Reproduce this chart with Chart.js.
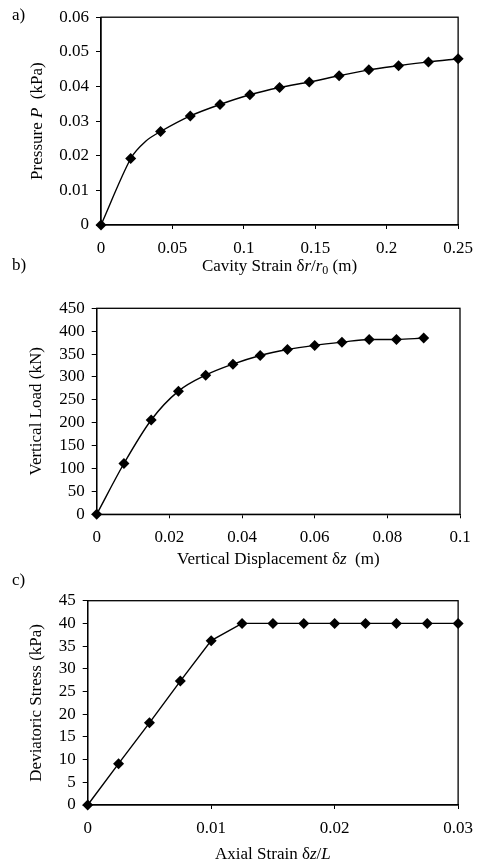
<!DOCTYPE html>
<html>
<head>
<meta charset="utf-8">
<script src="https://cdn.jsdelivr.net/npm/chart.js@4.4.1/dist/chart.umd.min.js"></script>
<style>
    body { margin: 0; background: #fff; width: 482px; height: 864px; position: relative; overflow: hidden; }
    canvas { position: absolute; left: 0; }
    .tag { position: absolute; left: 12px; font: 17px "Liberation Serif", serif; color: #000; line-height: 17px; }
</style>
</head>
<body>
<canvas id="chartA" width="482" height="285" style="top:0"></canvas>
<canvas id="chartB" width="482" height="285" style="top:285px"></canvas>
<canvas id="chartC" width="482" height="294" style="top:570px"></canvas>
<div class="tag" style="top:6px">a)</div>
<div class="tag" style="top:256px">b)</div>
<div class="tag" style="top:571px">c)</div>
<script>
// a) cavity expansion (point 2 is a bend in the curve with no marker)
const cavityStrain = [0, 0.0208, 0.0313, 0.0417, 0.0625, 0.0833, 0.1042, 0.125, 0.1458, 0.1667, 0.1875, 0.2083, 0.2292, 0.25];
const pressure = [0, 0.0192, 0.0242, 0.0270, 0.0315, 0.0348, 0.0376, 0.0397, 0.0413, 0.0431, 0.0448, 0.0460, 0.0471, 0.0480];
const pressureUnmarked = [2];

// b) pile load test
const verticalDisp = [0, 0.0075, 0.015, 0.0225, 0.03, 0.0375, 0.045, 0.0525, 0.06, 0.0675, 0.075, 0.0825, 0.09];
const verticalLoad = [0, 111, 206, 269, 304, 328, 347, 360, 369, 376, 382, 382, 385];

// c) triaxial test
const axialStrain = [0, 0.0025, 0.005, 0.0075, 0.01, 0.0125, 0.015, 0.0175, 0.02, 0.0225, 0.025, 0.0275, 0.03];
const deviatoricStress = [0, 9.1, 18.1, 27.3, 36.2, 40, 40, 40, 40, 40, 40, 40, 40];

const FONT = '"Liberation Serif", "Times New Roman", serif';

function drawRich(ctx, parts, cx, cy, angle) {
    ctx.save();
    ctx.translate(cx, cy);
    ctx.rotate(angle);
    let fontOf = p => (p.italic ? 'italic ' : '') + (p.sub ? 12 : 17) + 'px ' + FONT;
    let total = 0;
    parts.forEach(p => { ctx.font = fontOf(p); total += ctx.measureText(p.text).width; });
    let x = -total / 2;
    ctx.fillStyle = '#000';
    ctx.textBaseline = 'middle';
    ctx.textAlign = 'left';
    parts.forEach(p => {
        ctx.font = fontOf(p);
        ctx.fillText(p.text, x, p.sub ? 4 : 0);
        x += ctx.measureText(p.text).width;
    });
    ctx.restore();
}

const frameAndTitles = {
    id: 'frameAndTitles',
    beforeDatasetsDraw(chart) {
        let a = chart.chartArea, ctx = chart.ctx;
        ctx.save();
        ctx.strokeStyle = '#000';
        ctx.lineWidth = 1.3;
        ctx.strokeRect(a.left, a.top, a.right - a.left, a.bottom - a.top);
        ctx.restore();
    },
    afterDraw(chart, args, opts) {
        let a = chart.chartArea;
        drawRich(chart.ctx, opts.xTitle, (a.left + a.right) / 2, opts.xTitleY, 0);
        drawRich(chart.ctx, opts.yTitle, opts.yTitleX, (a.top + a.bottom) / 2, -Math.PI / 2);
    }
};

function tickText(v) {
    return String(Number(v.toFixed(4)));
}

function makeChart(id, xs, ys, box, axes, titles, curve, unmarked) {
    let ctx = document.getElementById(id).getContext('2d');
    let canvasH = ctx.canvas.height;
    return new Chart(ctx, {
        type: 'line',
        data: {
            datasets: [{
                data: xs.map((x, i) => ({ x: x, y: ys[i] })),
                borderColor: '#000',
                backgroundColor: '#000',
                borderWidth: 1.4,
                pointStyle: 'rectRot',
                pointRadius: c => unmarked.includes(c.dataIndex) ? 0 : 5.5,
                pointBorderWidth: 0,
                cubicInterpolationMode: curve.mode,
                tension: curve.tension,
                clip: false
            }]
        },
        options: {
            responsive: false,
            animation: false,
            events: [],
            layout: { padding: { left: 0, top: box.top, right: 482 - box.right, bottom: 0 } },
            plugins: {
                legend: { display: false },
                tooltip: { enabled: false },
                frameAndTitles: titles
            },
            scales: {
                x: {
                    type: 'linear',
                    min: axes.xMin, max: axes.xMax,
                    afterFit: s => { s.height = canvasH - box.bottom; },
                    afterBuildTicks: s => { s.ticks = axes.xTicks.map(v => ({ value: v })); },
                    grid: { display: true, drawOnChartArea: false, tickLength: 4, color: '#000', lineWidth: 1 },
                    border: { display: true, color: '#000', width: 1.3 },
                    ticks: { color: '#000', padding: 9, maxRotation: 0, autoSkip: false, font: { family: FONT, size: 17 }, callback: tickText }
                },
                y: {
                    type: 'linear',
                    min: axes.yMin, max: axes.yMax,
                    afterFit: s => { s.width = box.left; },
                    afterBuildTicks: s => { s.ticks = axes.yTicks.map(v => ({ value: v })); },
                    grid: { display: true, drawOnChartArea: false, tickLength: 5, color: '#000', lineWidth: 1 },
                    border: { display: true, color: '#000', width: 1.3 },
                    ticks: { color: '#000', padding: 7, autoSkip: false, font: { family: FONT, size: 17 }, callback: tickText }
                }
            }
        },
        plugins: [frameAndTitles]
    });
}

makeChart('chartA', cavityStrain, pressure,
    { left: 101, right: 461.5, top: 15, bottom: 225 },
    { xMin: 0, xMax: 0.25, xTicks: [0, 0.05, 0.1, 0.15, 0.2, 0.25],
      yMin: 0, yMax: 0.06, yTicks: [0, 0.01, 0.02, 0.03, 0.04, 0.05, 0.06] },
    { xTitleY: 267, yTitleX: 38,
      xTitle: [{ text: 'Cavity Strain \u03b4' }, { text: 'r', italic: true }, { text: '/' }, { text: 'r', italic: true }, { text: '0', sub: true }, { text: ' (m)' }],
      yTitle: [{ text: 'Pressure ' }, { text: 'P', italic: true }, { text: '  (kPa)' }] },
    { mode: 'default', tension: 0.3 }, pressureUnmarked);

makeChart('chartB', verticalDisp, verticalLoad,
    { left: 96.7, right: 460, top: 23.3, bottom: 229.3 },
    { xMin: 0, xMax: 0.1, xTicks: [0, 0.02, 0.04, 0.06, 0.08, 0.1],
      yMin: 0, yMax: 450, yTicks: [0, 50, 100, 150, 200, 250, 300, 350, 400, 450] },
    { xTitleY: 275, yTitleX: 37,
      xTitle: [{ text: 'Vertical Displacement \u03b4' }, { text: 'z', italic: true }, { text: '  (m)' }],
      yTitle: [{ text: 'Vertical Load (kN)' }] },
    { mode: 'monotone', tension: 0 }, []);

makeChart('chartC', axialStrain, deviatoricStress,
    { left: 87.7, right: 462.3, top: 30.7, bottom: 235 },
    { xMin: 0, xMax: 0.03, xTicks: [0, 0.01, 0.02, 0.03],
      yMin: 0, yMax: 45, yTicks: [0, 5, 10, 15, 20, 25, 30, 35, 40, 45] },
    { xTitleY: 285, yTitleX: 37,
      xTitle: [{ text: 'Axial Strain \u03b4' }, { text: 'z', italic: true }, { text: '/' }, { text: 'L', italic: true }],
      yTitle: [{ text: 'Deviatoric Stress (kPa)' }] },
    { mode: 'default', tension: 0 }, []);
</script>
</body>
</html>
